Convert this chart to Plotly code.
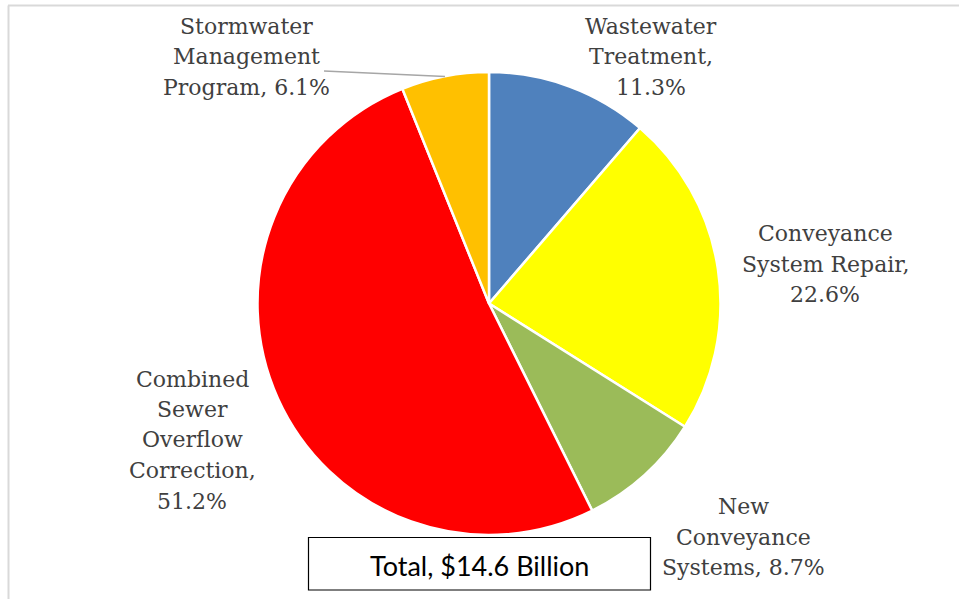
import plotly.graph_objects as go

categories = ["Wastewater Treatment", "Conveyance System Repair", "New Conveyance Systems",
              "Combined Sewer Overflow Correction", "Stormwater Management Program"]
values = [11.3, 22.6, 8.7, 51.2, 6.1]
colors = ["#4F81BD", "#FFFF00", "#9BBB59", "#FF0000", "#FFC000"]
label_lines = [["Wastewater", "Treatment,", "11.3%"],
               ["Conveyance", "System Repair,", "22.6%"],
               ["New", "Conveyance", "Systems, 8.7%"],
               ["Combined", "Sewer", "Overflow", "Correction,", "51.2%"],
               ["Stormwater", "Management", "Program, 6.1%"]]
total_text = "Total, $14.6 Billion"

W, H = 959, 599
# label centre positions in pixels (layout)
label_pos = [(651, 57), (825, 264), (743, 537), (192, 440), (246, 57)]
LINE = 30.5

fig = go.Figure(go.Pie(
    labels=categories, values=values, sort=False, direction="clockwise", rotation=0,
    marker=dict(colors=colors, line=dict(color="white", width=2.5)),
    textinfo="none", hoverinfo="label+percent", showlegend=False,
    domain=dict(x=[257.5 / W, 720.5 / W], y=[(H - 535) / H, (H - 72) / H]),
))

for lines, (px, py) in zip(label_lines, label_pos):
    n = len(lines)
    for i, ln in enumerate(lines):
        yy = py + (i - (n - 1) / 2) * LINE
        fig.add_annotation(x=px / W, y=1 - yy / H, xref="paper", yref="paper",
                           text=ln, showarrow=False, xanchor="center", yanchor="middle",
                           font=dict(family="DejaVu Serif", size=22, color="#404040"))

fig.add_annotation(x=479 / W, y=1 - 565 / H, xref="paper", yref="paper",
                   text=total_text, showarrow=False, xanchor="center", yanchor="middle",
                   font=dict(family="Lato", size=27, color="black"))

shapes = [
    dict(type="rect", xref="paper", yref="paper", x0=308.5 / W, x1=650.5 / W,
         y0=1 - 590 / H, y1=1 - 537.5 / H, line=dict(color="black", width=1.2), fillcolor="white", layer="below"),
    dict(type="line", xref="paper", yref="paper", x0=324 / W, y0=1 - 71 / H, x1=445 / W, y1=1 - 76.5 / H,
         line=dict(color="#A6A6A6", width=1.5)),
    dict(type="line", xref="paper", yref="paper", x0=8 / W, y0=1 - 5.5 / H, x1=1, y1=1 - 5.5 / H,
         line=dict(color="#D9D9D9", width=2)),
    dict(type="line", xref="paper", yref="paper", x0=8.5 / W, y0=1 - 5.5 / H, x1=8.5 / W, y1=0,
         line=dict(color="#D9D9D9", width=2)),
]

fig.update_layout(width=W, height=H, margin=dict(l=0, r=0, t=0, b=0),
                  paper_bgcolor="white", plot_bgcolor="white", shapes=shapes)

fig.write_html("out.html")
